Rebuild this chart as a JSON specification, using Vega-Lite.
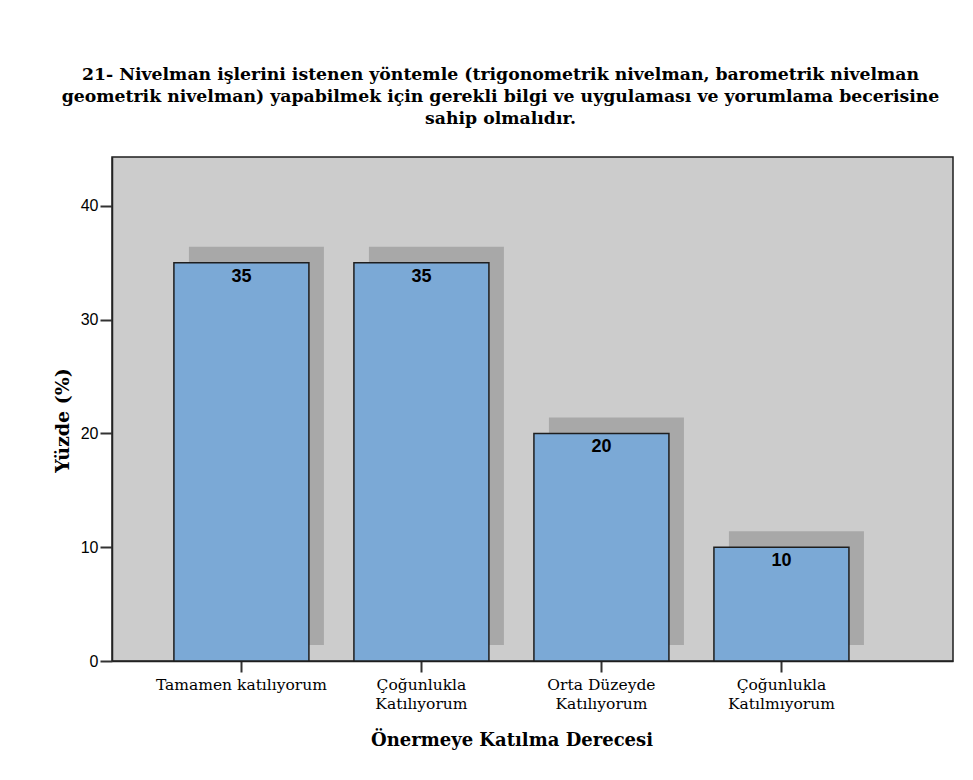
{
  "$schema": "https://vega.github.io/schema/vega-lite/v6.json",
  "autosize": {"type": "none"},
  "width": 841,
  "height": 504,
  "padding": {"left": 112, "top": 157, "right": 20, "bottom": 119},
  "background": "white",
  "title": {
    "text": ["21- Nivelman işlerini istenen yöntemle (trigonometrik nivelman, barometrik nivelman", "geometrik nivelman) yapabilmek için gerekli bilgi ve uygulaması ve yorumlama becerisine", "sahip olmalıdır."],
    "font": "DejaVu Serif",
    "fontSize": 17.3,
    "fontWeight": "bold",
    "color": "#000000",
    "lineHeight": 22,
    "anchor": "middle",
    "frame": "group",
    "dx": -32,
    "offset": 30
  },
  "data": {
    "values": [
      {"kategori": "Tamamen katılıyorum", "yuzde": 35},
      {"kategori": "Çoğunlukla Katılıyorum", "yuzde": 35},
      {"kategori": "Orta Düzeyde Katılıyorum", "yuzde": 20},
      {"kategori": "Çoğunlukla Katılmıyorum", "yuzde": 10}
    ]
  },
  "encoding": {
    "x": {
      "field": "kategori",
      "type": "nominal",
      "sort": null,
      "scale": {"paddingInner": 0.25, "paddingOuter": 0.461, "align": 0.373},
      "axis": {
        "title": "Önermeye Katılma Derecesi",
        "titleFont": "DejaVu Serif",
        "titleFontSize": 18,
        "titleFontWeight": "bold",
        "titleColor": "#000000",
        "titlePadding": 20,
        "titleX": 399.5,
        "labelAngle": 0,
        "labelFont": "DejaVu Serif",
        "labelFontSize": 15.5,
        "labelColor": "#000000",
        "labelLineHeight": 19,
        "labelPadding": 5,
        "labelExpr": "datum.value == 'Tamamen katılıyorum' ? datum.value : [substring(datum.value, 0, lastindexof(datum.value, ' ')), substring(datum.value, lastindexof(datum.value, ' ') + 1)]",
        "tickSize": 11,
        "tickWidth": 2,
        "tickColor": "#333333",
        "domainColor": "#222222",
        "domainWidth": 1.5
      }
    },
    "y": {
      "field": "yuzde",
      "type": "quantitative",
      "scale": {"domain": [0, 44.3], "nice": false, "zero": true},
      "axis": {
        "title": "Yüzde (%)",
        "titleFont": "DejaVu Serif",
        "titleFontSize": 19,
        "titleFontWeight": "bold",
        "titleColor": "#000000",
        "titlePadding": 8,
        "titleY": 263,
        "values": [0, 10, 20, 30, 40],
        "grid": false,
        "labelFont": "Liberation Sans",
        "labelFontSize": 16,
        "labelColor": "#000000",
        "labelPadding": 2,
        "tickSize": 12,
        "tickWidth": 2,
        "tickColor": "#333333",
        "domainColor": "#222222",
        "domainWidth": 1.5
      }
    }
  },
  "layer": [
    {
      "mark": {"type": "bar", "color": "#a8a8a8", "xOffset": 15, "yOffset": -16, "y2Offset": -14}
    },
    {
      "mark": {"type": "bar", "fill": "#7ba9d6", "stroke": "#1e1e1e", "strokeWidth": 1.5}
    },
    {
      "mark": {"type": "text", "baseline": "top", "dy": 5, "font": "Liberation Sans", "fontSize": 18, "fontWeight": "bold", "color": "#000000"},
      "encoding": {"text": {"field": "yuzde", "type": "quantitative"}}
    }
  ],
  "config": {
    "view": {"fill": "#cccccc", "stroke": "#1e1e1e", "strokeWidth": 1.5}
  }
}
